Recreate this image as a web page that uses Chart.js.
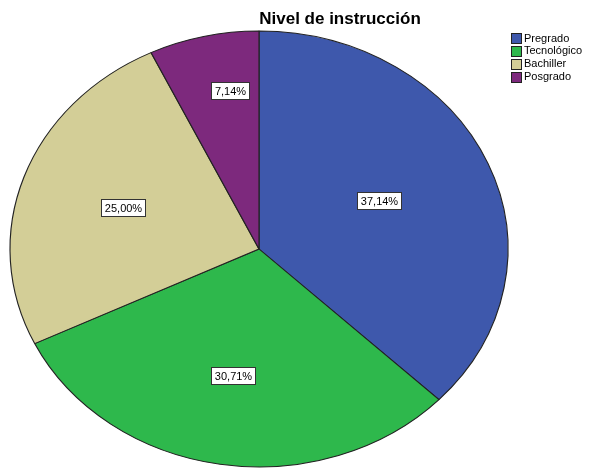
<!DOCTYPE html>
<html>
<head>
<meta charset="utf-8">
<script src="https://cdn.jsdelivr.net/npm/chart.js@4"></script>
<style>
    body { margin: 0; background: #fff; }
    canvas { display: block; }
</style>
</head>
<body>
<canvas id="pieChart" width="589" height="468"></canvas>
<script>
const categories = ["Pregrado", "Tecnológico", "Bachiller", "Posgrado"];
const percentages = [37.14, 30.71, 25.00, 7.14];
const sliceColors = ['#3e58ac', '#2eb84c', '#d3ce97', '#7d297d'];
const chartTitle = "Nivel de instrucción";

// SPSS draws the pie as an ellipse, stretch it sideways
const stretchX = 249 / 218;
// where each value box sits: fraction of radius + small angle nudge (deg)
const labelRadius = [0.53, 0.59, 0.58, 0.735];
const labelNudge = [-1.5, 1, 0, 3.8];

const fmt = v => v.toFixed(2).replace('.', ',') + '%';

const ellipsePlugin = {
    id: 'ellipse',
    beforeDatasetsDraw(chart) {
        const arc = chart.getDatasetMeta(0).data[0];
        const ctx = chart.ctx;
        ctx.save();
        ctx.translate(arc.x, arc.y);
        ctx.scale(stretchX, 1);
        ctx.translate(-arc.x, -arc.y);
    },
    afterDatasetsDraw(chart) {
        chart.ctx.restore();
    }
};

const boxLabels = {
    id: 'boxLabels',
    afterDatasetsDraw(chart) {
        const ctx = chart.ctx;
        ctx.save();
        ctx.font = '11px "Liberation Sans", Arial, sans-serif';
        ctx.textAlign = 'center';
        ctx.textBaseline = 'middle';
        chart.getDatasetMeta(0).data.forEach((arc, i) => {
            const mid = (arc.startAngle + arc.endAngle) / 2 + labelNudge[i] * Math.PI / 180;
            const r = arc.outerRadius * labelRadius[i];
            const x = arc.x + Math.cos(mid) * r * stretchX;
            const y = arc.y + Math.sin(mid) * r;
            const txt = fmt(percentages[i]);
            const w = Math.round(ctx.measureText(txt).width) + 7;
            const h = 17;
            const bx = Math.round(x - w / 2) + 0.5, by = Math.round(y - h / 2) + 0.5;
            ctx.fillStyle = '#fff';
            ctx.fillRect(bx, by, w, h);
            ctx.strokeStyle = '#333';
            ctx.lineWidth = 1;
            ctx.strokeRect(bx, by, w, h);
            ctx.fillStyle = '#000';
            ctx.fillText(txt, bx + w / 2, by + h / 2 + 0.5);
        });
        ctx.restore();
    }
};

const titleAndLegend = {
    id: 'titleAndLegend',
    afterDraw(chart) {
        const ctx = chart.ctx;
        ctx.save();
        ctx.fillStyle = '#000';
        ctx.font = 'bold 17px "Liberation Sans", Arial, sans-serif';
        ctx.textAlign = 'center';
        ctx.textBaseline = 'middle';
        ctx.fillText(chartTitle, 340, 19);

        ctx.font = '11px "Liberation Sans", Arial, sans-serif';
        ctx.textAlign = 'left';
        categories.forEach((c, i) => {
            const y = 38 + i * 12.9;
            ctx.fillStyle = sliceColors[i];
            ctx.fillRect(511.5, Math.round(y - 5) + 0.5, 10, 10);
            ctx.strokeStyle = '#222';
            ctx.lineWidth = 1;
            ctx.strokeRect(511.5, Math.round(y - 5) + 0.5, 10, 10);
            ctx.fillStyle = '#000';
            ctx.fillText(c, 524, y + 0.5);
        });
        ctx.restore();
    }
};

new Chart(document.getElementById('pieChart'), {
    type: 'pie',
    data: {
        labels: categories,
        datasets: [{
            data: percentages,
            backgroundColor: sliceColors,
            borderColor: '#222',
            borderWidth: 1
        }]
    },
    options: {
        responsive: false,
        animation: false,
        radius: 218,
        layout: { padding: { left: 10, right: 81, top: 31, bottom: 1 } },
        plugins: {
            legend: { display: false },
            title: { display: false },
            tooltip: { enabled: false }
        }
    },
    plugins: [ellipsePlugin, boxLabels, titleAndLegend]
});
</script>
</body>
</html>
